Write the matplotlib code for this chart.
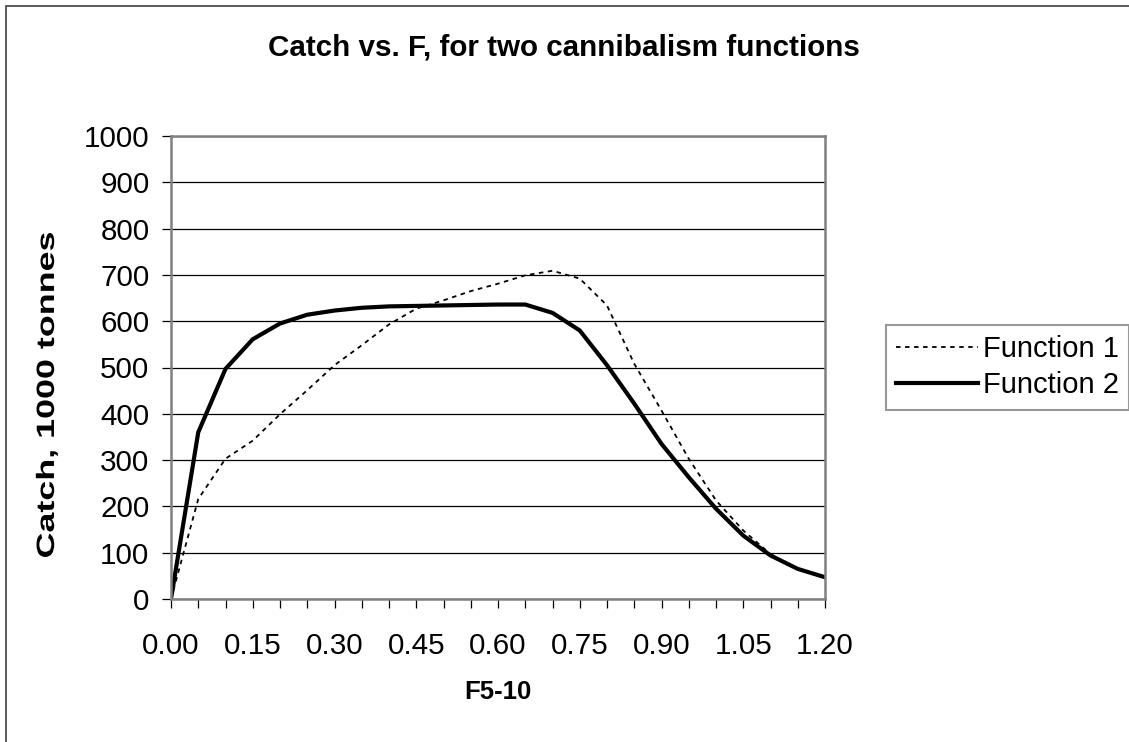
import matplotlib
matplotlib.use("Agg")
import matplotlib.pyplot as plt
import matplotlib.transforms as mtransforms
from matplotlib.font_manager import FontProperties
from matplotlib.patches import PathPatch, Rectangle
from matplotlib.textpath import TextPath

plt.rcParams["font.family"] = ["Liberation Sans", "DejaVu Sans"]

# fishing mortality F5-10 (category axis in the original)
f_values = [0.00, 0.05, 0.10, 0.15, 0.20, 0.25, 0.30, 0.35, 0.40, 0.45, 0.50, 0.55,
            0.60, 0.65, 0.70, 0.75, 0.80, 0.85, 0.90, 0.95, 1.00, 1.05, 1.10, 1.15, 1.20]

# catch, 1000 tonnes
catch_function1 = [0, 216, 303, 342, 399, 451, 505, 548, 593, 627, 645, 665,
                   681, 699, 709, 692, 634, 508, 407, 303, 213, 148, 97, 65, 47]
catch_function2 = [0, 360, 497, 561, 595, 614, 623, 629, 632, 633, 634, 635,
                   636, 636, 618, 580, 505, 422, 335, 263, 195, 137, 94, 65, 47]

series_names = ["Function 1", "Function 2"]
y_ticks = [0, 100, 200, 300, 400, 500, 600, 700, 800, 900, 1000]

W, H = 1129, 742
fig = plt.figure(figsize=(W / 100, H / 100), dpi=100)

# outer chart border (right/bottom run off the image)
fig.patches.append(Rectangle((6 / W, -0.05), 1.2, 1 - 6 / H + 0.05, transform=fig.transFigure,
                             fill=False, edgecolor="#404040", linewidth=1.2))

ax = fig.add_axes([171 / W, 1 - 599 / H, (825 - 171) / W, (599 - 136) / H])

idx = list(range(len(f_values)))
ax.plot(idx, catch_function1, color="black", linewidth=1.3, linestyle=(0, (2.5, 2.5)),
        label=series_names[0])
ax.plot(idx, catch_function2, color="black", linewidth=3.0, solid_joinstyle="miter",
        label=series_names[1])

ax.set_xlim(0, len(f_values) - 1)
ax.set_ylim(0, 1000)
ax.set_yticks(y_ticks)
ax.set_xticks(idx)
ax.set_xticklabels([f"{f:.2f}" if i % 3 == 0 else "" for i, f in enumerate(f_values)])

ax.yaxis.grid(True, color="black", linewidth=0.9)
ax.set_axisbelow(True)
for side in ("left", "right", "top", "bottom"):
    ax.spines[side].set_color("#808080")
    ax.spines[side].set_linewidth(1.8)

ax.tick_params(axis="both", direction="out", length=6.5, width=0.9, color="black",
               labelsize=21.3)
ax.tick_params(axis="y", pad=9)
ax.tick_params(axis="x", pad=17)

fig.text(564 / W, 1 - 47 / H, "Catch vs. F, for two cannibalism functions",
         ha="center", va="center", fontsize=21.3, fontweight="bold")
fig.text(498 / W, 1 - 692 / H, "F5-10", ha="center", va="center",
         fontsize=18.5, fontweight="bold")

# y label: the original renders it widely spread along its length
label_size = 25.0
label_path = TextPath((0, 0), "Catch, 1000 tonnes", size=label_size,
                      prop=FontProperties(family="Liberation Sans", weight="bold"))
ext = label_path.get_extents()
stretch = 324 / ext.width
label_tf = (mtransforms.Affine2D()
            .translate(-(ext.x0 + ext.width / 2), -0.358 * label_size)
            .scale(stretch, 1.0)
            .rotate_deg(90)
            .translate(45, H - 395))
fig.add_artist(PathPatch(label_path, transform=label_tf, facecolor="black",
                         edgecolor="none", linewidth=0))

leg = fig.legend(loc="upper left", bbox_to_anchor=(886 / W, 1 - 325 / H),
                 borderaxespad=0, fontsize=21, frameon=True, fancybox=False,
                 handlelength=2.8, handletextpad=0.18, borderpad=0.35,
                 labelspacing=0.28)
leg.get_frame().set_edgecolor("#808080")
leg.get_frame().set_linewidth(1.5)

fig.savefig("out.png", dpi=100)
